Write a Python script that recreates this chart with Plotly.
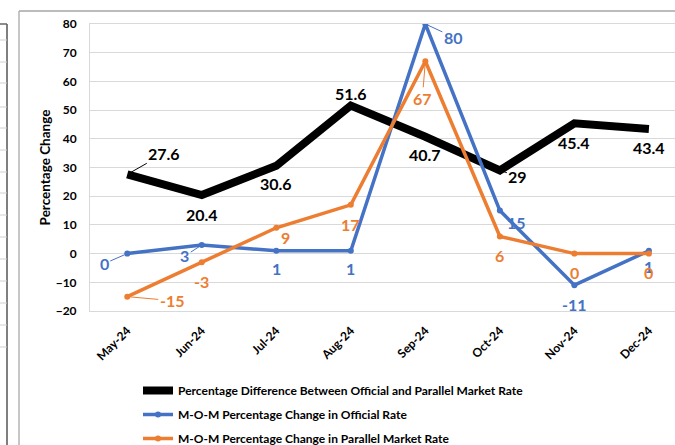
"""Month-on-month exchange rate changes, styled like the Excel original."""

import plotly.graph_objects as go

# Data
months = ["May-24", "Jun-24", "Jul-24", "Aug-24", "Sep-24", "Oct-24", "Nov-24", "Dec-24"]
pct_difference = [27.6, 20.4, 30.6, 51.6, 40.7, 29, 45.4, 43.4]
official_mom = [0, 3, 1, 1, 80, 15, -11, 1]
parallel_mom = [-15, -3, 9, 17, 67, 6, 0, 0]

y_ticks = [-20, -10, 0, 10, 20, 30, 40, 50, 60, 70, 80]

BLACK = "#000000"
BLUE = "#4472C4"
ORANGE = "#ED7D31"
GRID = "#d9d9d9"
FONT = "Lato, Carlito, sans-serif"

# Label placement per point: (dx, dy, leader line). dy positive = down.
black_offsets = [(37, -21, True), (0, 19, False), (0, 18, False), (0, -12, False),
                 (0, 18, False), (18, 6, True), (0, 19, False), (0, 18, False)]
blue_offsets = [(-23, 10, True), (-17, 11, True), (0, 18, False), (0, 18, False),
                (28, 13, True), (17, 12, True), (0, 19, False), (0, 16, False)]
orange_offsets = [(45, 4, True), (0, 19, False), (9, 10, False), (0, 20, False),
                  (-3, 37, True), (0, 19, False), (0, 19, False), (0, 19, False)]

fig = go.Figure()

fig.add_trace(go.Scatter(
    x=months, y=pct_difference, mode="lines",
    name="Percentage Difference Between Official and Parallel Market Rate",
    line=dict(color=BLACK, width=8), legendgroup="a",
))
fig.add_trace(go.Scatter(
    x=months, y=official_mom, mode="lines+markers",
    name="M-O-M Percentage Change in Official Rate",
    line=dict(color=BLUE, width=3.5), marker=dict(size=6, color=BLUE),
    legendgroup="b",
))
fig.add_trace(go.Scatter(
    x=months, y=parallel_mom, mode="lines+markers",
    name="M-O-M Percentage Change in Parallel Market Rate",
    line=dict(color=ORANGE, width=3.5), marker=dict(size=6, color=ORANGE),
    legendgroup="c",
))


def add_labels(values, offsets, color):
    for m, v, (dx, dy, leader) in zip(months, values, offsets):
        font = dict(color=color, size=16, family=FONT, weight="bold")
        if leader:
            fig.add_annotation(
                x=m, y=v, text=f"{v:g}", showarrow=True, ax=dx, ay=dy,
                arrowhead=0, arrowwidth=1, arrowcolor=color, standoff=3,
                font=font,
            )
        else:
            fig.add_annotation(
                x=m, y=v, text=f"{v:g}", showarrow=False,
                xshift=dx, yshift=-dy, font=font,
            )


add_labels(pct_difference, black_offsets, BLACK)
add_labels(official_mom, blue_offsets, BLUE)
add_labels(parallel_mom, orange_offsets, ORANGE)

# Plot area spans 90..675 px horizontally and 24..311 px vertically
W, L, T, H = 675, 90, 24, 287


def px(x):
    return (x - L) / (W - L)


def py(y):
    return (T + H - y) / H


shapes = [
    # outer chart frame (left + top edges only are visible)
    dict(type="line", xref="paper", yref="paper", x0=px(19), x1=px(19),
         y0=py(11), y1=py(450), line=dict(color="#b3b3b3", width=1.5)),
    dict(type="line", xref="paper", yref="paper", x0=px(19), x1=px(680),
         y0=py(11), y1=py(11), line=dict(color="#a6a6a6", width=1.5)),
    # neighbouring table on the far left
    dict(type="line", xref="paper", yref="paper", x0=px(7), x1=px(7),
         y0=py(24), y1=py(450), line=dict(color="#555555", width=1.5)),
    dict(type="line", xref="paper", yref="paper", x0=px(-5), x1=px(7),
         y0=py(24), y1=py(24), line=dict(color="#666666", width=1.5)),
]
for yy in [40, 62, 83, 107, 128, 150, 172, 193, 215, 237, 259, 281, 303, 325, 347]:
    shapes.append(dict(type="line", xref="paper", yref="paper", x0=px(-5), x1=px(7),
                       y0=py(yy), y1=py(yy), line=dict(color="#d0d0d0", width=1)))

fig.update_layout(
    width=675, height=445,
    margin=dict(l=L, r=0, t=T, b=445 - T - H, autoexpand=False),
    paper_bgcolor="white", plot_bgcolor="white",
    font=dict(family=FONT, color=BLACK, weight="bold"),
    shapes=shapes,
    legend=dict(
        x=px(138), y=py(376), xanchor="left", yanchor="top",
        font=dict(size=12, family=FONT, weight="bold"),
        tracegroupgap=5, itemwidth=30,
    ),
)
fig.update_xaxes(
    type="category", range=[-0.5, 7.35], automargin=False,
    showgrid=False, showline=True, mirror=True, linecolor=GRID, linewidth=1,
    tickangle=-45, tickfont=dict(size=12), ticks="", ticklabelstandoff=7,
)
fig.update_yaxes(
    range=[-20, 80], tickvals=y_ticks, automargin=False,
    showgrid=True, gridcolor=GRID,
    zeroline=True, zerolinecolor=GRID, zerolinewidth=1,
    showline=True, linecolor=GRID, linewidth=1,
    tickfont=dict(size=12), ticks="", ticklabelstandoff=10,
    title=dict(text="Percentage Change", font=dict(size=13.5), standoff=1),
)

# the page's default body margin would shift the chart 8px down/right
fig.write_html(
    "out.html",
    config={"displayModeBar": False},
    post_script="document.body.style.margin='0';",
)
